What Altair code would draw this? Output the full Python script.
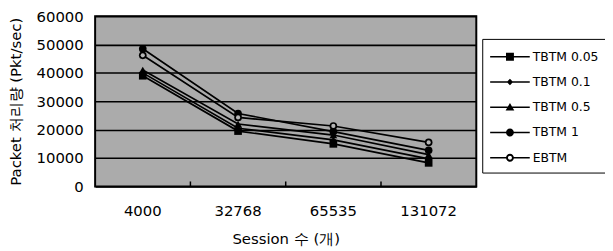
import altair as alt
import pandas as pd

sessions = ["4000", "32768", "65535", "131072"]
series_names = ["TBTM 0.05", "TBTM 0.1", "TBTM 0.5", "TBTM 1", "EBTM"]
tbtm_005 = [39000, 19500, 15000, 8300]
tbtm_01 = [40000, 20500, 16400, 9700]
tbtm_05 = [41000, 22000, 18100, 11200]
tbtm_1 = [48500, 25700, 19300, 12700]
ebtm = [46200, 24300, 21300, 15500]
y_ticks = [0, 10000, 20000, 30000, 40000, 50000, 60000]

all_vals = [tbtm_005, tbtm_01, tbtm_05, tbtm_1, ebtm]
rows = []
for name, vals in zip(series_names, all_vals):
    for s, v in zip(sessions, vals):
        rows.append({"session": s, "series": name, "legend": name, "value": v})
df = pd.DataFrame(rows)

plot_shapes = ["square", "diamond", "triangle-up", "circle", "circle"]
# legend glyphs: a line stub (drawn as a thin filled bar) with the marker in its middle
STUB = "M-1,-0.08H3V0.08H-1Z"
STUB_SPLIT = "M-1,-0.08H0.64V0.08H-1ZM1.36,-0.08H3V0.08H1.36Z"
legend_shapes = [
    STUB + "M0.6,-0.4H1.4V0.4H0.6Z",
    STUB + "M1,-0.32L1.32,0L1,0.32L0.68,0Z",
    STUB + "M1,-0.42L1.44,0.34H0.56Z",
    STUB + "M0.6,0A0.4,0.4 0 1,1 1.4,0A0.4,0.4 0 1,1 0.6,0Z",
    STUB_SPLIT + "M0.6,0A0.4,0.4 0 1,1 1.4,0A0.4,0.4 0 1,1 0.6,0ZM0.8,0A0.2,0.2 0 1,0 1.2,0A0.2,0.2 0 1,0 0.8,0Z",
]

W, H = 385, 172
FONT = "DejaVu Sans"

xscale = alt.Scale(domain=sessions, paddingInner=0, paddingOuter=0)
yscale = alt.Scale(domain=[0, 60000])

x_axis = alt.Axis(
    title="Session 수 (개)", labelAngle=0, ticks=False, domain=False,
    labelPadding=17, labelFontSize=15, labelFont=FONT, labelColor="black",
    titleFontSize=15, titleFont=FONT, titleFontWeight="normal", titleColor="black",
    titleY=53, titleBaseline="middle",
)
y_axis = alt.Axis(
    title="Packet 처리량 (Pkt/sec)", values=y_ticks, format="d", ticks=False, domain=False,
    grid=True, gridColor="black", gridWidth=1.6, gridOpacity=1, labelOverlap=False,
    labelPadding=12, labelFontSize=15, labelFont=FONT, labelColor="black",
    titleFontSize=15, titleFont=FONT, titleFontWeight="normal", titleColor="black",
    titleX=-80, titleY=86, titleAngle=-90, titleBaseline="middle", titleAlign="center",
)

x_enc = alt.X("session:N", scale=xscale, sort=sessions, axis=x_axis)
y_enc = alt.Y("value:Q", scale=yscale, axis=y_axis)

lines = alt.Chart(df).mark_line(color="black", strokeWidth=1.7).encode(
    x=x_enc, y=y_enc, detail="series:N"
)

points = alt.Chart(df).mark_point(filled=True, color="black", opacity=1, strokeWidth=1.2).encode(
    x=x_enc, y=y_enc,
    shape=alt.Shape("series:N", scale=alt.Scale(domain=series_names, range=plot_shapes), legend=None),
    size=alt.condition(alt.datum.series == "TBTM 0.1", alt.value(30), alt.value(60)),
)

ebtm_open = alt.Chart(df).transform_filter(alt.datum.series == "EBTM").mark_point(
    filled=True, color="#b5b5b5", size=18, shape="circle", opacity=1
).encode(x=x_enc, y=y_enc)

legend_layer = alt.Chart(df).mark_point(filled=True, color="black", opacity=0).encode(
    x=x_enc, y=y_enc,
    shape=alt.Shape(
        "legend:N",
        scale=alt.Scale(domain=series_names, range=legend_shapes),
        legend=alt.Legend(
            title=None, orient="none", legendX=391, legendY=23,
            symbolSize=400, symbolFillColor="black", symbolStrokeWidth=0,
            symbolOpacity=1,
            labelFontSize=12.5, labelFont=FONT, labelColor="black", labelOffset=23,
            strokeColor="black", fillColor="white", padding=8, rowPadding=8.5,
        ),
    ),
)

tick_df = pd.DataFrame({"session": sessions[1:]})
ticks = alt.Chart(tick_df).mark_rule(color="black", strokeWidth=1.5).encode(
    x=alt.X("session:N", scale=xscale, sort=sessions, axis=x_axis, bandPosition=0),
    y=alt.value(H - 5),
    y2=alt.value(H),
)

chart = alt.layer(lines, ticks, points, ebtm_open, legend_layer).resolve_scale(
    shape="independent"
).properties(
    width=W, height=H,
    autosize=alt.AutoSizeParams(type="none"),
    padding={"left": 88, "top": 7, "right": 130, "bottom": 62},
    background="white",
).configure_view(
    fill="#ababab", stroke="black", strokeWidth=2
)

chart.save("out.html", embed_options={"renderer": "svg", "actions": False})
